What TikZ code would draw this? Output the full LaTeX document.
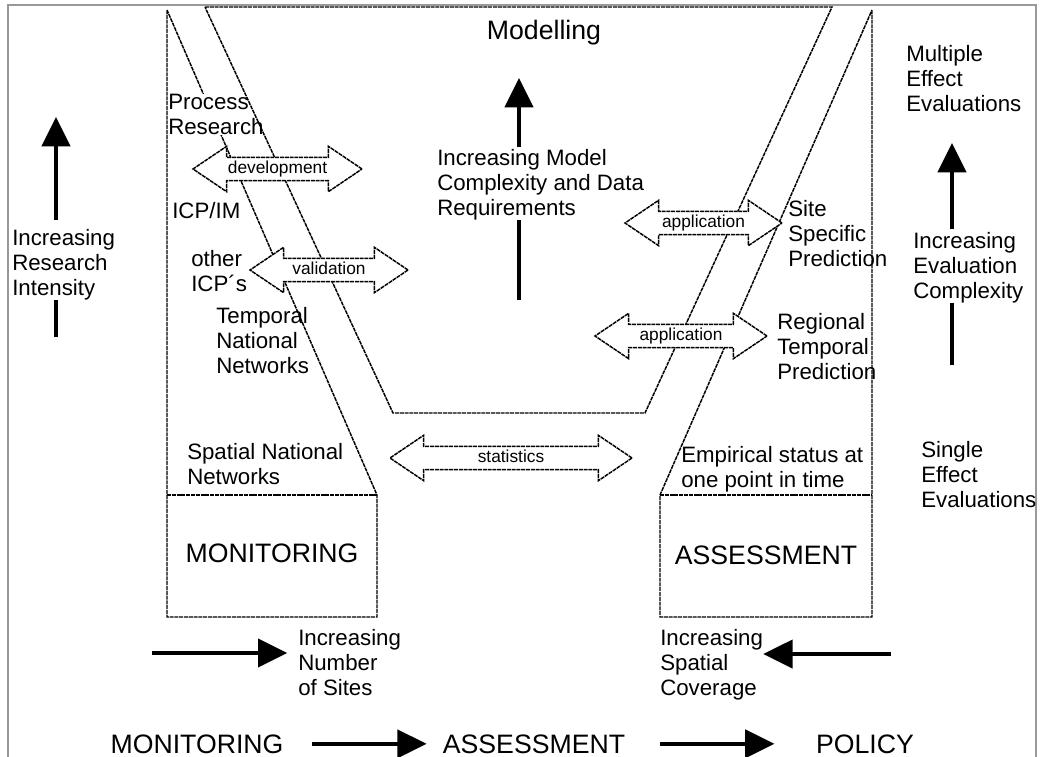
\documentclass[tikz,border=0pt]{standalone}
\usepackage{fontspec}
\setmainfont{Liberation Sans}
\usetikzlibrary{arrows.meta,shapes.arrows}

\tikzset{
  outline/.style={line width=1.1pt,dash pattern=on 3pt off .6pt},
  bigarrow/.style={line width=3pt,-{Triangle[length=22pt,width=21pt]}},
  bigline/.style={line width=3pt},
  fatarrow/.style={double arrow,draw,fill=white,line width=1.1pt,dash pattern=on 3pt off .6pt,
    double arrow head extend=8.3pt,double arrow tip angle=68,inner xsep=0pt,inner ysep=2.2pt,
    text height=9pt,text depth=3pt,font=\fontsize{13}{14}\selectfont},
  txt/.style={anchor=north west,inner sep=0pt,align=left,font=\fontsize{16.7}{18.6}\selectfont},
  bigtxt/.style={inner sep=0pt,font=\fontsize{20}{22}\selectfont}
}

\begin{document}
\begin{tikzpicture}[x=.75pt,y=-.75pt]
\path[use as bounding box] (0,0) rectangle (1040,757);
\draw[black!40,line width=1pt] (8,757)--(8,5)--(1036,5)--(1036,757);

\draw[outline] (167,10)--(167,617)--(377,617)--(377,495)--cycle;
\draw[outline] (167,495)--(377,495);
\draw[outline] (872,10)--(872,617)--(660,617)--(660,495)--cycle;
\draw[outline] (660,495)--(872,495);

\node[txt,fill=white] (procRes) at (168,94) {Process\\Research};
\node[txt] (icpIm) at (172,202) {ICP/IM};
\node[txt] (otherIcp) at (191,250) {other\\ICP´s};
\node[txt] (tempNat) at (216,307) {Temporal\\National\\Networks};
\node[txt] (spatNat) at (187,443) {Spatial National\\Networks};
\node[txt] (siteSpec) at (788,200) {Site\\Specific\\Prediction};
\node[txt] (regTemp) at (777,313) {Regional\\Temporal\\Prediction};
\node[txt] (empStat) at (681,446) {Empirical status at\\one point in time};

\draw[outline] (205,7)--(832,7)--(645,413)--(393,413)--cycle;
\node[bigtxt] (modelling) at (544,33) {Modelling};
\node[bigtxt] (monBox) at (272,553) {MONITORING};
\node[bigtxt] (assBox) at (766,555) {ASSESSMENT};

\node[fatarrow,minimum height=126.75pt] (devArrow) at (277.5,169) {development};
\node[fatarrow,minimum height=118.5pt] (valArrow) at (329,270) {validation};
\node[fatarrow,minimum height=117.75pt] (appUpper) at (703.5,223) {application};
\node[fatarrow,minimum height=129pt] (appLower) at (681,336) {application};
\node[fatarrow,minimum height=181.5pt] (statArrow) at (511,458) {statistics};

\node[txt] (resInt) at (12,229) {Increasing\\Research\\Intensity};
\coordinate (resTip) at (56,117);
\coordinate (resLow) at (56,337);
\draw[bigline] (resLow) -- (resInt.south -| resLow);
\draw[bigarrow,shorten <=7pt] (resInt.north -| resTip) -- (resTip);

\node[txt] (modCx) at (437,149) {Increasing Model\\Complexity and Data\\Requirements};
\coordinate (modTip) at (519,78);
\coordinate (modLow) at (519,300);
\draw[bigline] (modLow) -- (modCx.south -| modLow);
\draw[bigarrow,shorten <=1.5pt] (modCx.north -| modTip) -- (modTip);

\node[txt] (multEff) at (906,45) {Multiple\\Effect\\Evaluations};
\node[txt] (evalCx) at (913,232) {Increasing\\Evaluation\\Complexity};
\node[txt] (singEff) at (921,441) {Single\\Effect\\Evaluations};
\coordinate (evalTip) at (952,143);
\coordinate (evalLow) at (952,365);
\draw[bigline] (evalLow) -- (evalCx.south -| evalLow);
\draw[bigarrow,shorten <=2pt] (evalCx.north -| evalTip) -- (evalTip);

\node[txt] (numSites) at (298,629) {Increasing\\Number\\of Sites};
\coordinate (numTail) at (152,653);
\draw[bigarrow,shorten >=8pt] (numTail) -- (numTail -| numSites.west);
\node[txt] (spatCov) at (660,629) {Increasing\\Spatial\\Coverage};
\coordinate (covTail) at (891,654);
\draw[bigarrow] (covTail) -- (covTail -| spatCov.east);

\node[bigtxt,anchor=base] (botMon) at (197,753) {MONITORING};
\node[bigtxt,anchor=base] (botAss) at (534,753) {ASSESSMENT};
\node[bigtxt,anchor=base] (botPol) at (865,753) {POLICY};
\draw[bigarrow,shorten <=21pt,shorten >=12pt] (botMon.east) -- (botAss.west);
\draw[bigarrow,shorten <=26pt,shorten >=31pt] (botAss.east) -- (botPol.west);
\end{tikzpicture}
\end{document}
